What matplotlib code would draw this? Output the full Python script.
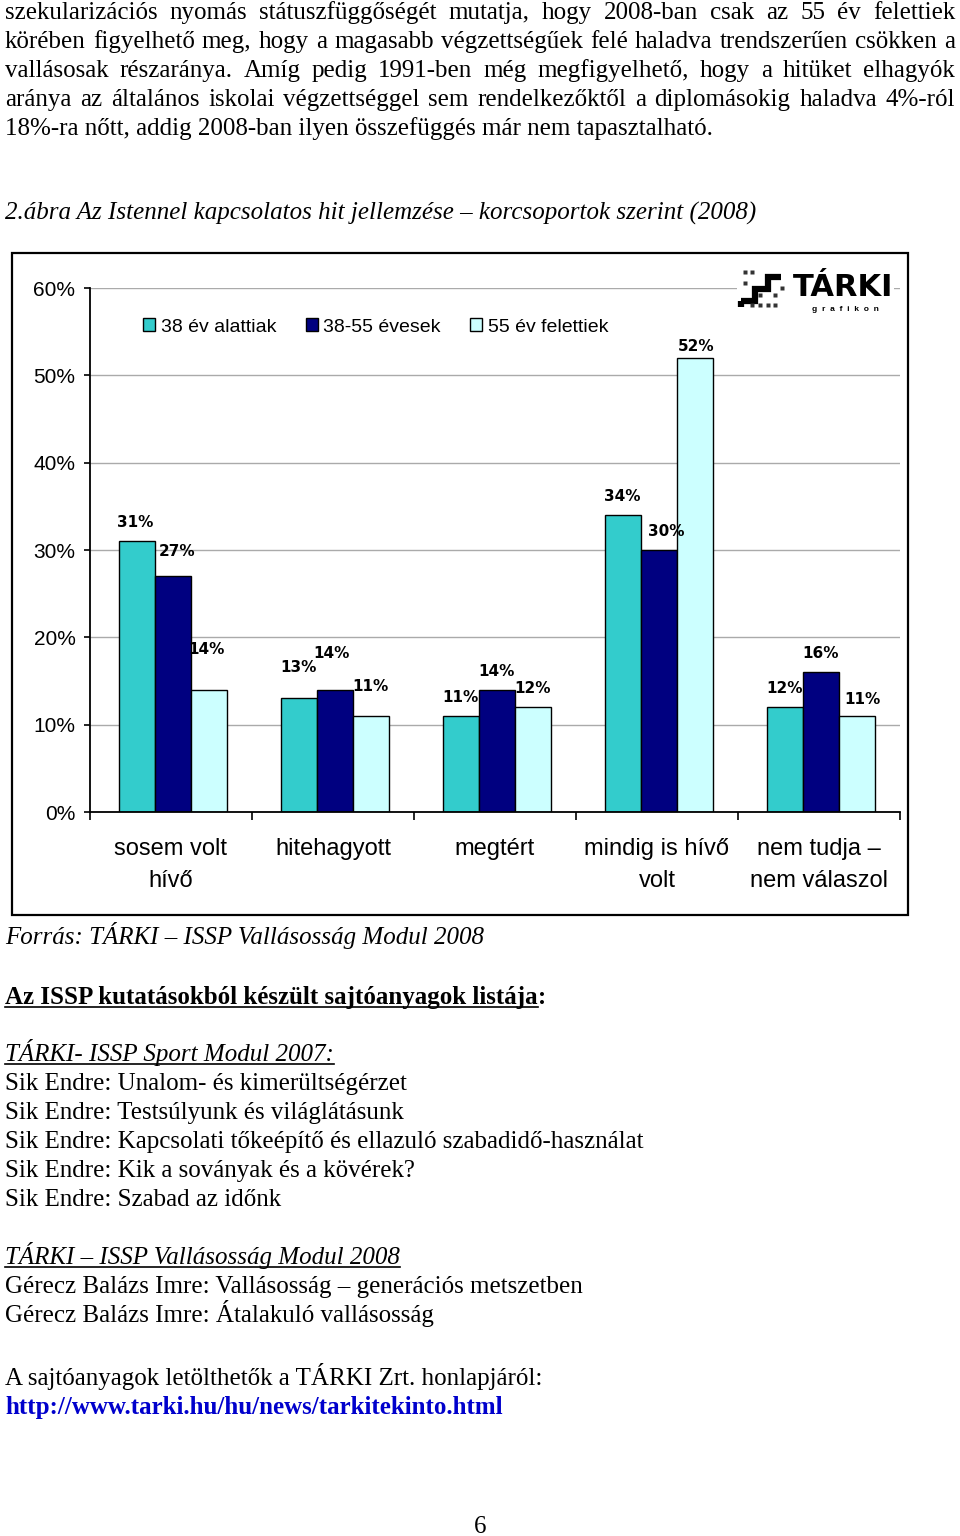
import matplotlib.pyplot as plt
from matplotlib.patches import Rectangle, Patch

plt.rcParams['font.family'] = ['Liberation Sans', 'DejaVu Sans']

# chart data (percent)
categories = ["sosem volt\nhívő", "hitehagyott", "megtért", "mindig is hívő\nvolt", "nem tudja –\nnem válaszol"]
series_names = ["38 év alattiak", "38-55 évesek", "55 év felettiek"]
under_38 = [31, 13, 11, 34, 12]
age_38_55 = [27, 14, 14, 30, 16]
over_55 = [14, 11, 12, 52, 11]
y_ticks = [0, 10, 20, 30, 40, 50, 60]

# page text
para_lines = [
    "szekularizációs nyomás státuszfüggőségét mutatja, hogy 2008-ban csak az 55 év felettiek",
    "körében figyelhető meg, hogy a magasabb végzettségűek felé haladva trendszerűen csökken a",
    "vallásosak részaránya. Amíg pedig 1991-ben még megfigyelhető, hogy a hitüket elhagyók",
    "aránya az általános iskolai végzettséggel sem rendelkezőktől a diplomásokig haladva 4%-ról",
    "18%-ra nőtt, addig 2008-ban ilyen összefüggés már nem tapasztalható.",
]
fig_title = "2.ábra Az Istennel kapcsolatos hit jellemzése – korcsoportok szerint (2008)"
source = "Forrás: TÁRKI – ISSP Vallásosság Modul 2008"
list_head = "Az ISSP kutatásokból készült sajtóanyagok listája"
sport_head = "TÁRKI- ISSP Sport Modul 2007:"
sport_items = [
    "Sik Endre: Unalom- és kimerültségérzet",
    "Sik Endre: Testsúlyunk és világlátásunk",
    "Sik Endre: Kapcsolati tőkeépítő és ellazuló szabadidő-használat",
    "Sik Endre: Kik a soványak és a kövérek?",
    "Sik Endre: Szabad az időnk",
]
rel_head = "TÁRKI – ISSP Vallásosság Modul 2008"
rel_items = [
    "Gérecz Balázs Imre: Vallásosság – generációs metszetben",
    "Gérecz Balázs Imre: Átalakuló vallásosság",
]
download = "A sajtóanyagok letölthetők a TÁRKI Zrt. honlapjáról:"
url = "http://www.tarki.hu/hu/news/tarkitekinto.html"

colors = ['#33CCCC', '#000080', '#CCFFFF']
serif = 'Liberation Serif'

fig = plt.figure(figsize=(9.6, 15.36), dpi=100)
renderer = fig.canvas.get_renderer()

# page layer in pixel coordinates
page = fig.add_axes([0, 0, 1, 1])
page.set_xlim(0, 960)
page.set_ylim(1536, 0)
page.axis('off')
page.set_zorder(3)
page.patch.set_alpha(0)


def put(x, y, s, **kw):
    kw.setdefault('fontsize', 18)
    kw.setdefault('family', serif)
    return page.text(x, y, s, va='baseline', ha='left', **kw)


def width_of(t):
    return t.get_window_extent(renderer=renderer).width


def justify(y, line, x0=5, x1=955):
    words = line.split()
    arts = [put(0, y, w) for w in words]
    ws = [width_of(a) for a in arts]
    gap = (x1 - x0 - sum(ws)) / (len(words) - 1)
    x = x0
    for a, w in zip(arts, ws):
        a.set_x(x)
        x += w + gap


def underline(t, y, x0=5):
    w = width_of(t)
    page.plot([x0, x0 + w], [y + 3, y + 3], color='black', lw=1.2)
    return w


base = 19
for i, line in enumerate(para_lines):
    if i < len(para_lines) - 1:
        justify(base + i * 29, line)
    else:
        put(5, base + i * 29, line)

put(5, 220, fig_title, style='italic')
put(5, 944, source, style='italic')

t = put(5, 1004, list_head, weight='bold')
w = underline(t, 1004)
put(5 + w, 1004, ":", weight='bold')

t = put(5, 1061, sport_head, style='italic')
underline(t, 1061)
for i, s in enumerate(sport_items):
    put(5, 1090 + i * 29, s)

t = put(5, 1264, rel_head, style='italic')
underline(t, 1264)
for i, s in enumerate(rel_items):
    put(5, 1293 + i * 29, s)

put(5, 1385, download)
put(5, 1414, url, weight='bold', color='#0000CC')
page.text(480, 1533, "6", fontsize=18, family=serif, ha='center', va='baseline')

# chart frame
page.add_patch(Rectangle((12, 253), 896, 662, fill=False, ec='black', lw=1.6))

# logo
page.add_patch(Rectangle((737, 262), 157, 50, fc='white', ec='none'))
page.plot([741, 755, 755, 768, 768, 781], [301, 301, 289, 289, 277, 277],
          color='black', lw=4.5, solid_joinstyle='miter', solid_capstyle='butt')
page.plot([741, 741], [301, 307], color='black', lw=4.5, solid_capstyle='butt')
for dx, dy in [(745, 272), (752, 272), (745, 283), (760, 295), (775, 295), (768, 305),
               (775, 305), (782, 288), (760, 305), (752, 305)]:
    page.plot(dx, dy, 's', ms=2.2, color='#333333', mec='none')
page.text(843, 296, "TÁRKI", fontsize=22, weight='heavy', ha='center', va='baseline',
          family='DejaVu Sans')
page.text(845, 311, "g  r  a  f  i  k  o  n", fontsize=6, weight='bold', ha='center',
          va='baseline', family='Liberation Sans')

# chart
ax = fig.add_axes([90 / 960, (1536 - 812) / 1536, 810 / 960, 524 / 1536])
ax.set_facecolor('none')
ax.set_xlim(0, 5)
ax.set_ylim(0, 60)

bw = 36 / 162
groups = [under_38, age_38_55, over_55]
label_nudge = {(0, 0): (-0.01, 0), (0, 1): (0.03, 0.7), (0, 2): (-0.01, 2.5),
               (1, 0): (0, 1.4), (1, 1): (-0.02, 2.1), (1, 2): (0, 1.3),
               (3, 1): (0.045, 0), (3, 2): (0.01, -0.8), (4, 2): (0.035, -0.2)}
for s, (vals, name) in enumerate(zip(groups, series_names)):
    xs = [c + 0.5 + (s - 1) * bw + 0.01 for c in range(len(categories))]
    ax.bar(xs, vals, width=bw, color=colors[s], edgecolor='black', linewidth=1.0,
           label=name, zorder=2)
    for c, (x, v) in enumerate(zip(xs, vals)):
        dx, dy = label_nudge.get((c, s), (0, 0))
        ax.text(x + dx, v + 2.1 + dy, f"{v}%", ha='center', va='center', fontsize=11,
                weight='bold', family='DejaVu Sans', zorder=4)

ax.set_yticks(y_ticks)
ax.set_yticklabels([f"{v}%" for v in y_ticks], fontsize=15)
ax.yaxis.grid(True, color='#aaaaaa', lw=1)
ax.set_axisbelow(True)
ax.set_xticks([c + 0.5 for c in range(len(categories))])
ax.set_xticklabels(categories, fontsize=17, linespacing=1.55)
ax.set_xticks(range(len(categories) + 1), minor=True)
ax.tick_params(axis='x', which='major', length=0, pad=19)
ax.tick_params(axis='x', which='minor', length=6, width=1.2, direction='out')
ax.tick_params(axis='y', length=4.5, width=1.2, pad=6)
for side in ['top', 'right']:
    ax.spines[side].set_visible(False)
for side in ['left', 'bottom']:
    ax.spines[side].set_linewidth(1.3)

handles = [Patch(facecolor=c, edgecolor='black', lw=1.0) for c in colors]
fig.legend(handles, series_names, loc='center left', bbox_to_anchor=(143 / 960, 1 - 327 / 1536),
           ncol=3, frameon=False, fontsize=14, handlelength=0.62, handleheight=0.62,
           handletextpad=0.3, columnspacing=1.5, borderpad=0, borderaxespad=0)

fig.savefig("out.png", dpi=100, facecolor='white')
